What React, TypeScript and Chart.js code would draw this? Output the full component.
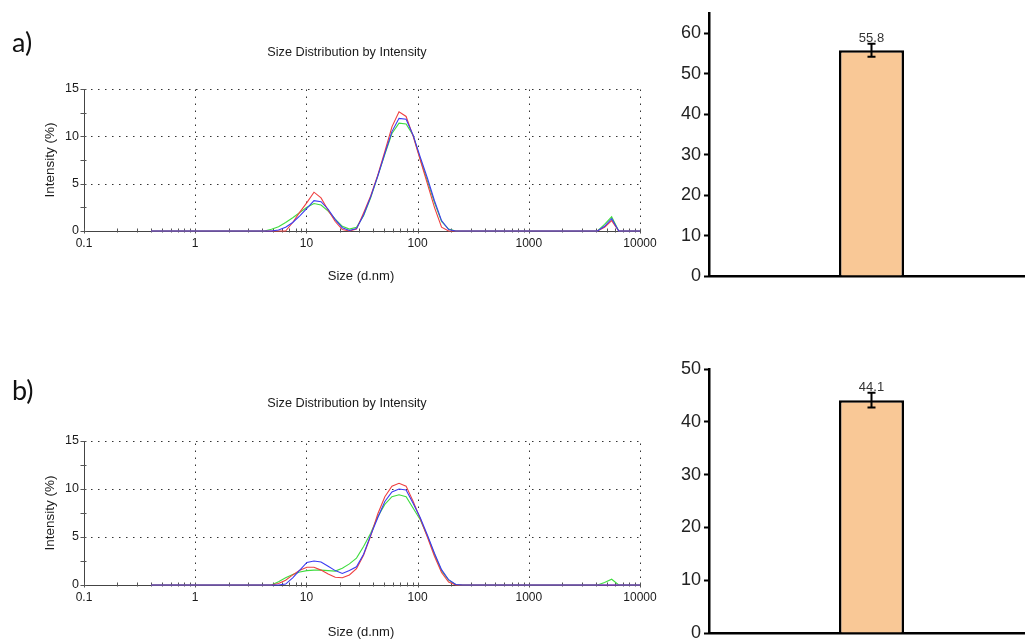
import React, { useEffect, useRef } from 'react';
import { Chart, registerables } from 'chart.js';

Chart.register(...registerables);

// ---------- DATA ----------
// Size bins (d.nm)
const sizes = [
  0.4, 0.4632, 0.5365, 0.6213, 0.7195, 0.8332, 0.9649, 1.117, 1.294, 1.499,
  1.736, 2.01, 2.328, 2.696, 3.122, 3.615, 4.187, 4.849, 5.615, 6.503,
  7.531, 8.721, 10.1, 11.7, 13.54, 15.69, 18.17, 21.04, 24.36, 28.21,
  32.67, 37.84, 43.82, 50.75, 58.77, 68.06, 78.82, 91.28, 105.7, 122.4,
  141.8, 164.2, 190.1, 220.2, 255.0, 295.3, 342.0, 396.1, 458.7, 531.2,
  615.1, 712.4, 825.0, 955.4, 1106, 1281, 1484, 1718, 1990, 2305,
  2669, 3091, 3580, 4145, 4801, 5560, 6439, 7456, 8635, 10000,
];

// Panel a) intensity (%)
const redA = [
  0, 0, 0, 0, 0, 0, 0, 0, 0, 0,
  0, 0, 0, 0, 0, 0, 0, 0, 0, 0,
  0.9, 2.0, 3.0, 4.1, 3.5, 2.2, 1.0, 0.15, 0, 0.2,
  1.9, 3.7, 5.9, 8.4, 11.0, 12.6, 12.1, 10.0, 7.5, 5.0,
  2.5, 0.4, 0, 0, 0, 0, 0, 0, 0, 0,
  0, 0, 0, 0, 0, 0, 0, 0, 0, 0,
  0, 0, 0, 0, 0.4, 1.1, 0, 0, 0, 0,
];
const blueA = [
  0, 0, 0, 0, 0, 0, 0, 0, 0, 0,
  0, 0, 0, 0, 0, 0, 0, 0, 0.1, 0.4,
  0.9, 1.6, 2.4, 3.2, 3.1, 2.3, 1.2, 0.35, 0.05, 0.25,
  1.7, 3.6, 5.8, 8.2, 10.5, 11.9, 11.8, 10.1, 7.8, 5.6,
  3.2, 1.1, 0.15, 0, 0, 0, 0, 0, 0, 0,
  0, 0, 0, 0, 0, 0, 0, 0, 0, 0,
  0, 0, 0, 0, 0.5, 1.3, 0, 0, 0, 0,
];
const greenA = [
  0, 0, 0, 0, 0, 0, 0, 0, 0, 0,
  0, 0, 0, 0, 0, 0, 0, 0.18, 0.45, 0.9,
  1.4, 1.95, 2.5, 2.9, 2.75, 2.1, 1.25, 0.5, 0.2, 0.4,
  1.6, 3.5, 5.8, 8.1, 10.3, 11.4, 11.3, 10.1, 7.6, 5.3,
  3.0, 1.0, 0.2, 0, 0, 0, 0, 0, 0, 0,
  0, 0, 0, 0, 0, 0, 0, 0, 0, 0,
  0, 0, 0, 0, 0.7, 1.5, 0, 0, 0, 0,
];

// Panel b) intensity (%)
const redB = [
  0, 0, 0, 0, 0, 0, 0, 0, 0, 0,
  0, 0, 0, 0, 0, 0, 0, 0, 0.15, 0.5,
  1.05, 1.55, 1.85, 1.85, 1.55, 1.15, 0.8, 0.75, 1.05, 1.7,
  3.1, 5.1, 7.4, 9.2, 10.3, 10.6, 10.3, 8.7, 6.9, 5.0,
  3.0, 1.3, 0.3, 0, 0, 0, 0, 0, 0, 0,
  0, 0, 0, 0, 0, 0, 0, 0, 0, 0,
  0, 0, 0, 0, 0, 0, 0, 0, 0, 0,
];
const blueB = [
  0, 0, 0, 0, 0, 0, 0, 0, 0, 0,
  0, 0, 0, 0, 0, 0, 0, 0, 0, 0.1,
  0.75, 1.55, 2.35, 2.5, 2.4, 1.95, 1.5, 1.2, 1.5, 1.9,
  3.2, 5.2, 7.0, 8.7, 9.7, 10.0, 9.9, 8.5, 7.0, 5.2,
  3.3, 1.6, 0.55, 0.05, 0, 0, 0, 0, 0, 0,
  0, 0, 0, 0, 0, 0, 0, 0, 0, 0,
  0, 0, 0, 0, 0, 0, 0, 0, 0, 0,
];
const greenB = [
  0, 0, 0, 0, 0, 0, 0, 0, 0, 0,
  0, 0, 0, 0, 0, 0, 0, 0, 0.35, 0.75,
  1.1, 1.35, 1.5, 1.55, 1.55, 1.5, 1.45, 1.75, 2.2, 2.8,
  4.0, 5.4, 7.1, 8.4, 9.2, 9.4, 9.2, 8.0, 6.8, 5.1,
  3.2, 1.5, 0.5, 0.05, 0, 0, 0, 0, 0, 0,
  0, 0, 0, 0, 0, 0, 0, 0, 0, 0,
  0, 0, 0, 0, 0.25, 0.6, 0, 0, 0, 0,
];

const xTickValues = [0.1, 1, 10, 100, 1000, 10000];
const xTickLabels = ['0.1', '1', '10', '100', '1000', '10000'];
const yTickValues = [0, 5, 10, 15];
const yMinorValues = [2.5, 7.5, 12.5];

// Bar panels
const barCategories = [''];
const barValuesA = [55.8];
const barErrorsA = [1.6];
const barValuesB = [44.1];
const barErrorsB = [1.4];

// ---------- STYLE ----------
const FONT = '"Liberation Sans", Arial, sans-serif';
const PANEL_FONT = 'Lato, "Liberation Sans", sans-serif';
const RED = '#ef4040';
const BLUE = '#3a3af2';
const GREEN = '#3fdc3f';
const BAR_FILL = '#f9c896';

type TextItem = { text: string; x: number; y: number; size: number; rot?: boolean; align?: CanvasTextAlign; family?: string; color?: string };

const textPlugin = (items: TextItem[]) => ({
  id: 'texts',
  afterDraw(chart: any) {
    const ctx = chart.ctx;
    items.forEach((t) => {
      ctx.save();
      ctx.fillStyle = t.color || '#1a1a1a';
      ctx.font = `${t.size}px ${t.family || FONT}`;
      ctx.textAlign = t.align || 'center';
      ctx.textBaseline = 'middle';
      ctx.translate(t.x, t.y);
      if (t.rot) ctx.rotate(-Math.PI / 2);
      ctx.fillText(t.text, 0, 0);
      ctx.restore();
    });
  },
});

const dlsFrame = {
  id: 'dlsFrame',
  beforeDatasetsDraw(chart: any) {
    const { ctx, chartArea: a, scales } = chart;
    const x = scales.x;
    const y = scales.y;
    const line = (x1: number, y1: number, x2: number, y2: number) => {
      ctx.beginPath();
      ctx.moveTo(x1, y1);
      ctx.lineTo(x2, y2);
      ctx.stroke();
    };
    ctx.save();
    ctx.strokeStyle = '#333';
    ctx.lineWidth = 1;
    ctx.setLineDash([1.5, 5.5]);
    yTickValues.slice(1).forEach((v) => {
      const py = Math.round(y.getPixelForValue(v)) + 0.5;
      line(a.left, py, a.right, py);
    });
    xTickValues.slice(1).forEach((v) => {
      const px = Math.round(x.getPixelForValue(v)) + 0.5;
      line(px, a.bottom, px, a.top);
    });
    ctx.setLineDash([]);
    ctx.strokeStyle = '#444';
    const lx = Math.round(a.left) + 0.5;
    const by = Math.round(a.bottom) + 0.5;
    line(lx, a.top, lx, by);
    line(a.left, by, a.right, by);
    // x ticks (major + minor)
    ctx.strokeStyle = '#555';
    for (let d = 0; d < xTickValues.length; d++) {
      const base = xTickValues[d];
      const px = Math.round(x.getPixelForValue(base)) + 0.5;
      line(px, by - 3, px, by + 2);
      if (d < xTickValues.length - 1) {
        for (let m = 2; m <= 9; m++) {
          const mx = Math.round(x.getPixelForValue(base * m)) + 0.5;
          line(mx, by - 3, mx, by + 1);
        }
      }
    }
    // y ticks
    [...yTickValues, ...yMinorValues].forEach((v) => {
      const py = Math.round(y.getPixelForValue(v)) + 0.5;
      line(lx - 4, py, lx + 2, py);
    });
    ctx.restore();
  },
};

function dlsConfig(red: number[], blue: number[], green: number[], texts: TextItem[], padTop: number, padBottom: number) {
  const mk = (vals: number[]) => sizes.map((s, i) => ({ x: s, y: vals[i] }));
  const ds = (label: string, vals: number[], color: string) => ({
    label,
    data: mk(vals),
    borderColor: color,
    backgroundColor: color,
    borderWidth: 1.1,
    pointRadius: 0,
    tension: 0,
    fill: false,
    clip: false as any,
  });
  return {
    type: 'line' as const,
    data: {
      datasets: [ds('Record 3', blue, BLUE), ds('Record 1', red, RED), ds('Record 2', green, GREEN)],
    },
    options: {
      animation: false as const,
      responsive: false,
      maintainAspectRatio: false,
      layout: { padding: { left: 0, right: 30, top: padTop, bottom: padBottom } },
      plugins: { legend: { display: false }, tooltip: { enabled: false }, title: { display: false } },
      scales: {
        x: {
          type: 'logarithmic' as const,
          min: 0.1,
          max: 10000,
          grid: { display: false, drawTicks: false },
          border: { display: false },
          afterBuildTicks: (s: any) => {
            s.ticks = xTickValues.map((v) => ({ value: v }));
          },
          ticks: {
            autoSkip: false,
            maxRotation: 0,
            padding: 5,
            color: '#1a1a1a',
            font: { family: FONT, size: 12 },
            callback: (_v: any, i: number) => xTickLabels[i],
          },
          afterFit: (s: any) => {
            s.height = 30;
          },
        },
        y: {
          type: 'linear' as const,
          min: 0,
          max: 15,
          grid: { display: false, drawTicks: false },
          border: { display: false },
          afterBuildTicks: (s: any) => {
            s.ticks = yTickValues.map((v) => ({ value: v }));
          },
          ticks: {
            padding: 5,
            color: '#1a1a1a',
            font: { family: FONT, size: 12.5 },
          },
          afterFit: (s: any) => {
            s.width = 84;
            s.paddingTop = 0;
            s.paddingBottom = 0;
          },
        },
      },
    },
    plugins: [dlsFrame, textPlugin(texts)],
  };
}

const errorBars = (errs: number[]) => ({
  id: 'errorBars',
  afterDatasetsDraw(chart: any) {
    const ctx = chart.ctx;
    const y = chart.scales.y;
    const meta = chart.getDatasetMeta(0);
    const vals = chart.data.datasets[0].data as number[];
    meta.data.forEach((bar: any, i: number) => {
      const v = vals[i];
      const e = errs[i];
      const top = y.getPixelForValue(v + e);
      const bot = y.getPixelForValue(v - e);
      ctx.save();
      ctx.strokeStyle = '#000';
      ctx.lineWidth = 2;
      ctx.beginPath();
      ctx.moveTo(bar.x, top);
      ctx.lineTo(bar.x, bot);
      ctx.moveTo(bar.x - 4, top);
      ctx.lineTo(bar.x + 4, top);
      ctx.moveTo(bar.x - 4, bot);
      ctx.lineTo(bar.x + 4, bot);
      ctx.stroke();
      ctx.fillStyle = '#333';
      ctx.font = `13px ${FONT}`;
      ctx.textAlign = 'center';
      ctx.textBaseline = 'alphabetic';
      ctx.fillText(v.toFixed(1), bar.x, top - 2);
      ctx.restore();
    });
  },
});

function barConfig(values: number[], errs: number[], yMax: number, padTop: number, padBottom: number) {
  return {
    type: 'bar' as const,
    data: {
      labels: barCategories,
      datasets: [
        {
          data: values,
          backgroundColor: BAR_FILL,
          borderColor: '#000',
          borderWidth: 2.5,
          barPercentage: 0.2,
          categoryPercentage: 1,
        },
      ],
    },
    options: {
      animation: false as const,
      responsive: false,
      maintainAspectRatio: false,
      layout: { padding: { left: 0, right: 0, top: padTop, bottom: padBottom } },
      plugins: { legend: { display: false }, tooltip: { enabled: false } },
      scales: {
        x: {
          grid: { display: false, drawTicks: false },
          border: { display: true, color: '#000', width: 2.5 },
          ticks: { display: false },
          afterFit: (s: any) => {
            s.height = 2;
            s.paddingLeft = 0;
            s.paddingRight = 0;
          },
        },
        y: {
          min: 0,
          max: yMax,
          grid: { display: true, drawOnChartArea: false, drawTicks: true, tickLength: 5, tickColor: '#000', tickWidth: 2 },
          border: { display: true, color: '#000', width: 2.5 },
          afterBuildTicks: (s: any) => {
            s.ticks = s.ticks.filter((t: any) => t.value % 10 === 0);
          },
          ticks: {
            stepSize: 10,
            padding: 3,
            color: '#222',
            font: { family: FONT, size: 18 },
          },
          afterFit: (s: any) => {
            s.width = 39;
            s.paddingTop = 0;
            s.paddingBottom = 0;
          },
        },
      },
    },
    plugins: [errorBars(errs)],
  };
}

function ChartCanvas({ left, top, width, height, config, clipWidth }: { left: number; top: number; width: number; height: number; config: () => any; clipWidth?: number }) {
  const ref = useRef<HTMLCanvasElement>(null);
  useEffect(() => {
    const chart = new Chart(ref.current as HTMLCanvasElement, config());
    return () => chart.destroy();
  }, []);
  return (
    <div style={{ position: 'absolute', left, top, width: clipWidth ?? width, height, overflow: 'hidden' }}>
      <canvas ref={ref} width={width} height={height} style={{ width, height, display: 'block' }} />
    </div>
  );
}

export default function App() {
  const textsA: TextItem[] = [
    { text: 'a)', x: 12, y: 43, size: 27, align: 'left', family: PANEL_FONT, color: '#111' },
    { text: 'Size Distribution by Intensity', x: 347, y: 52, size: 12.7 },
    { text: 'Intensity (%)', x: 50, y: 160, size: 13.5, rot: true },
    { text: 'Size (d.nm)', x: 361, y: 276, size: 13 },
  ];
  const textsB: TextItem[] = [
    { text: 'b)', x: 12, y: 51, size: 27, align: 'left', family: PANEL_FONT, color: '#111' },
    { text: 'Size Distribution by Intensity', x: 347, y: 63, size: 12.7 },
    { text: 'Intensity (%)', x: 50, y: 173, size: 13.5, rot: true },
    { text: 'Size (d.nm)', x: 361, y: 292, size: 13 },
  ];
  return (
    <div>
      <ChartCanvas left={0} top={0} width={670} height={300} config={() => dlsConfig(redA, blueA, greenA, textsA, 89, 39)} />
      <ChartCanvas left={0} top={340} width={670} height={299} config={() => dlsConfig(redB, blueB, greenB, textsB, 101, 24)} />
      <ChartCanvas left={670} top={0} width={364} clipWidth={355} height={290} config={() => barConfig(barValuesA, barErrorsA, 65, 13, 12)} />
      <ChartCanvas left={670} top={320} width={364} clipWidth={355} height={319} config={() => barConfig(barValuesB, barErrorsB, 50, 49, 4)} />
    </div>
  );
}
